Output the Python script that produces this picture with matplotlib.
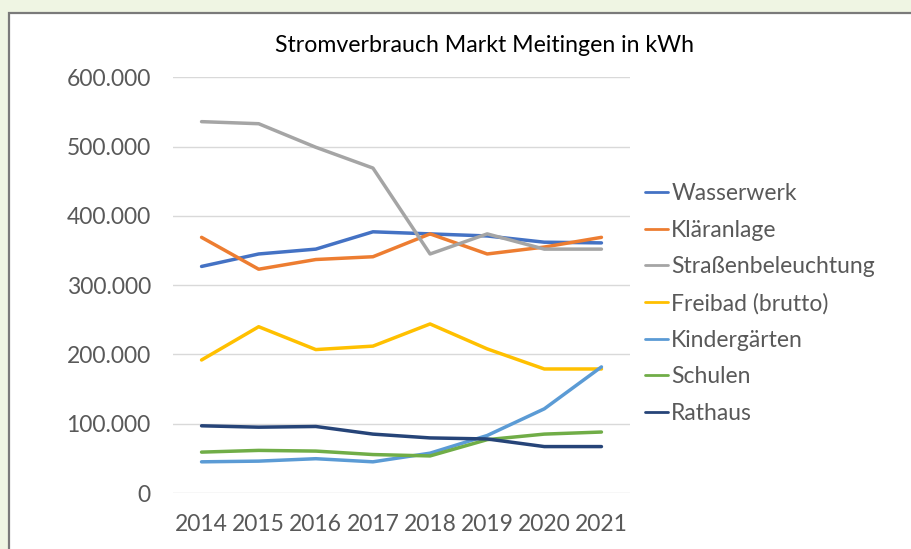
import matplotlib
matplotlib.use("Agg")
import matplotlib.pyplot as plt
from matplotlib.patches import Rectangle
from matplotlib.ticker import FuncFormatter, MultipleLocator

years = ["2014", "2015", "2016", "2017", "2018", "2019", "2020", "2021"]
wasserwerk = [327000, 345000, 352000, 377000, 374000, 371000, 362000, 361000]
klaeranlage = [369000, 323000, 337000, 341000, 374000, 345000, 355000, 369000]
strassenbeleuchtung = [536000, 533000, 499000, 469000, 345000, 374000, 352000, 352000]
freibad = [192000, 240000, 207000, 212000, 244000, 208000, 179000, 179000]
kindergaerten = [45000, 46000, 49500, 45000, 57500, 83000, 121500, 182000]
schulen = [59000, 61500, 60500, 55500, 53500, 77000, 85000, 88000]
rathaus = [97000, 95000, 96000, 85000, 79500, 78000, 67000, 67000]

series_names = ["Wasserwerk", "Kläranlage", "Straßenbeleuchtung", "Freibad (brutto)",
                "Kindergärten", "Schulen", "Rathaus"]
series_values = [wasserwerk, klaeranlage, strassenbeleuchtung, freibad,
                 kindergaerten, schulen, rathaus]
colors = ["#4472C4", "#ED7D31", "#A5A5A5", "#FFC000", "#5B9BD5", "#70AD47", "#264478"]

plt.rcParams['font.family'] = ['Lato', 'DejaVu Sans']

W, H = 912, 549
fig = plt.figure(figsize=(W / 100, H / 100), dpi=100)
fig.patch.set_facecolor("#EFF5E3")

# white chart box with gray border
box = Rectangle((9.5 / W, -0.05), 1.2, (H - 12.5) / H + 0.05, transform=fig.transFigure,
                facecolor="white", edgecolor="#7A7A7A", linewidth=1.6, zorder=-5)
fig.patches.append(box)

left, right = 173 / W, 630 / W
bottom, top = 1 - 493 / H, 1 - 77.3 / H
ax = fig.add_axes([left, bottom, right - left, top - bottom])
ax.set_facecolor("none")
ax.set_zorder(2)

x = list(range(len(years)))
for name, vals, c in zip(series_names, series_values, colors):
    ax.plot(x, vals, color=c, lw=2.5, label=name, solid_capstyle="round", solid_joinstyle="round")

ax.set_xlim(-0.5, len(years) - 0.5)
ax.set_ylim(0, 600000)
ax.yaxis.set_major_locator(MultipleLocator(100000))
ax.yaxis.set_major_formatter(FuncFormatter(lambda v, p: f"{v:,.0f}".replace(",", ".")))
ax.set_xticks(x)
ax.set_xticklabels(years)
ax.grid(axis="y", color="#D9D9D9", lw=1.0)
ax.set_axisbelow(True)
for s in ax.spines.values():
    s.set_visible(False)
ax.tick_params(axis="both", length=0, labelsize=16.5, labelcolor="#595959")
ax.tick_params(axis="y", pad=16)
ax.tick_params(axis="x", pad=15)

fig.text(485 / W, 1 - 46 / H, "Stromverbrauch Markt Meitingen in kWh", ha="center", va="center",
         fontsize=16.7, color="#000000", zorder=3)

leg = fig.legend(loc="upper left", bbox_to_anchor=(645 / W, 1 - 183 / H), frameon=False,
                 fontsize=16.5, handlelength=1.0, handletextpad=0.15, labelspacing=0.68,
                 borderaxespad=0, borderpad=0)
leg.set_zorder(3)
for t in leg.get_texts():
    t.set_color("#595959")
for h in leg.get_lines():
    h.set_linewidth(2.0)

fig.savefig("out.png", dpi=100, facecolor=fig.get_facecolor())
